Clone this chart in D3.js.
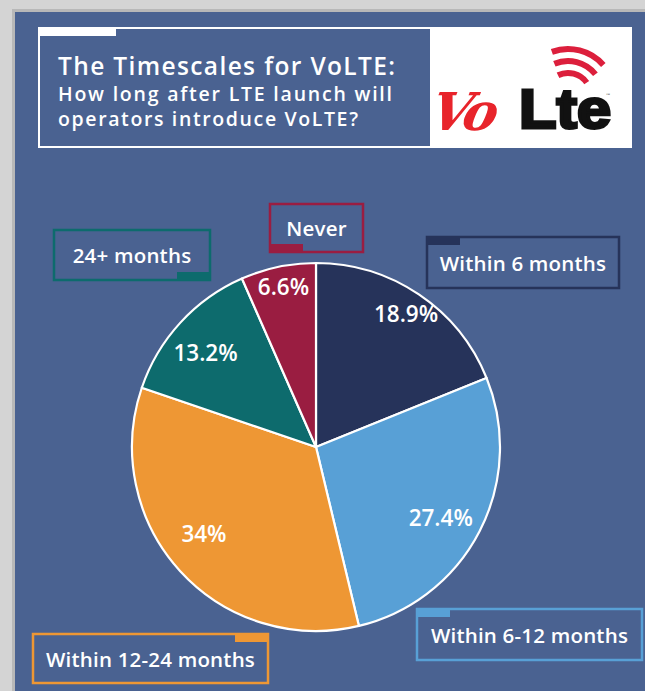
<!DOCTYPE html>
<html><head><meta charset="utf-8">
<script src="https://cdn.jsdelivr.net/npm/d3@7"></script>
<style>html,body{margin:0;padding:0;background:#d2d2d2;overflow:hidden}</style>
</head><body>
<svg id="c" width="645" height="691"></svg>
<script>
const categories = ["Within 6 months","Within 6-12 months","Within 12-24 months","24+ months","Never"];
const values = [18.9, 27.4, 34, 13.2, 6.6];
const valueLabels = ["18.9%","27.4%","34%","13.2%","6.6%"];
const colors = ["#26335a","#58a0d6","#ee9734","#0d6b6d","#9a1d41"];
const titleLines = ["The Timescales for VoLTE:","How long after LTE launch will","operators introduce VoLTE?"];

const svg = d3.select("#c");
const font = "'Open Sans', Lato, sans-serif";

// background
svg.append("rect").attr("x",0).attr("y",0).attr("width",645).attr("height",691).attr("fill","#d4d4d4");
svg.append("rect").attr("x",12).attr("y",9).attr("width",633).attr("height",682).attr("fill","#b8b8b8");
svg.append("rect").attr("x",15).attr("y",12).attr("width",630).attr("height",679).attr("fill","#4a6291");

// title box
svg.append("rect").attr("x",38).attr("y",27).attr("width",594).attr("height",121).attr("fill","#ffffff");
svg.append("rect").attr("x",40).attr("y",29).attr("width",390).attr("height",117).attr("fill","#4a6291");
svg.append("rect").attr("x",40).attr("y",29).attr("width",76).attr("height",7).attr("fill","#ffffff");
const tsz = [24.5,19.5,19.5], ty = [75,101,126], tlen=[337,334,300];
titleLines.forEach((t,i)=>{
  svg.append("text").attr("x",58).attr("y",ty[i]).attr("fill","#fff")
    .attr("font-family",font).attr("font-weight",600).attr("font-size",tsz[i])
    .attr("textLength",tlen[i]).attr("lengthAdjust","spacing").text(t);
});
// logo
const logo = svg.append("g");
logo.append("text").attr("x",428).attr("y",130).attr("fill","#e8242b")
  .attr("font-family","'DejaVu Serif', serif").attr("font-style","italic").attr("font-weight",700)
  .attr("font-size",52).attr("transform","skewX(-12) translate(28,0)").attr("letter-spacing",-4).text("Vo");
logo.append("text").attr("x",519).attr("y",128).attr("fill","#111").attr("stroke","#111").attr("stroke-width",3)
  .attr("font-family","'Liberation Sans', Arial, sans-serif").attr("font-weight",900)
  .attr("font-size",55).attr("textLength",92).attr("lengthAdjust","spacingAndGlyphs").text("Lte");
[20,32,44].forEach((r,i)=>{
  logo.append("path").attr("transform","translate(568,96)")
    .attr("d",d3.arc()({innerRadius:r,outerRadius:r+6,startAngle:-0.45+0.05*i,endAngle:0.95-0.05*i}))
    .attr("fill","#dc1f3c");
});
logo.append("text").attr("x",606).attr("y",96).attr("font-size",4).attr("fill","#333").text("™");

// pie
const cx = 316, cy = 447, R = 184;
const pie = d3.pie().sort(null).value(d=>d)(values);
const arc = d3.arc().innerRadius(0).outerRadius(R);
const g = svg.append("g").attr("transform",`translate(${cx},${cy})`);
g.selectAll("path").data(pie).join("path")
  .attr("d",arc).attr("fill",(d,i)=>colors[i])
  .attr("stroke","#fff").attr("stroke-width",2.2).attr("stroke-linejoin","round");

const labelR = [0.875,0.78,0.77,0.79,0.89];
const labelShift = [0,2.4,4.6,-2,0.4]; // degrees
g.selectAll("text.pct").data(pie).join("text").attr("class","pct")
  .attr("transform",(d,i)=>{
    const a=(d.startAngle+d.endAngle)/2 + labelShift[i]*Math.PI/180, r=R*labelR[i];
    return `translate(${Math.sin(a)*r},${-Math.cos(a)*r})`;
  })
  .attr("text-anchor","middle").attr("dy","0.36em")
  .attr("fill","#fff").attr("font-family",font).attr("font-weight",600).attr("font-size",22.5)
  .text((d,i)=>valueLabels[i]);

// category boxes
const boxes = [
  {x:427,y:237,w:192,h:51,tab:"tl"},
  {x:417,y:609,w:225,h:51,tab:"tl"},
  {x:33,y:634,w:235,h:49,tab:"tr"},
  {x:54,y:230,w:156,h:50,tab:"br"},
  {x:270,y:204,w:93,h:48,tab:"bl"}
];
boxes.forEach((b,i)=>{
  const c = colors[i];
  svg.append("rect").attr("x",b.x).attr("y",b.y).attr("width",b.w).attr("height",b.h)
    .attr("fill","none").attr("stroke",c).attr("stroke-width",2.5);
  const tw=34, th=9;
  let tx = b.tab.includes("l")? b.x-1 : b.x+b.w-tw+1;
  let tyy = b.tab.includes("t")? b.y-1 : b.y+b.h-th+1;
  svg.append("rect").attr("x",tx).attr("y",tyy).attr("width",tw).attr("height",th).attr("fill",c);
  svg.append("text").attr("x",b.x+b.w/2).attr("y",b.y+b.h/2+1).attr("dy","0.36em")
    .attr("text-anchor","middle").attr("fill","#fff").attr("font-family",font)
    .attr("font-weight",600).attr("font-size",20.5).attr("letter-spacing",0.2).text(categories[i]);
});
</script>
</body></html>
